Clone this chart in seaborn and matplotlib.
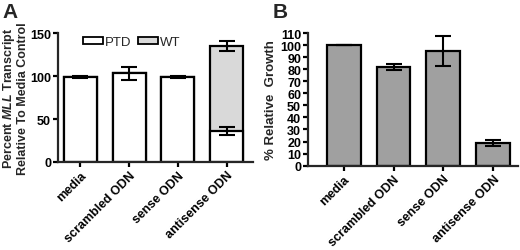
import matplotlib
matplotlib.use("Agg")
import matplotlib.pyplot as plt
import seaborn as sns
import pandas as pd
import numpy as np
from matplotlib.patches import Patch

categories = ["media", "scrambled ODN", "sense ODN", "antisense ODN"]
# Panel A
ptd_values = [99, 103, 99, 36]
ptd_err = [1, 8, 1, 5]
wt_values = [0, 0, 0, 99]
total_err = [0, 0, 0, 5.5]
# Panel B
growth_values = [100, 82, 95, 19]
growth_err = [0, 2.6, 12.5, 2.6]

sns.set_theme(style="ticks")
plt.rcParams['font.family'] = ['Liberation Sans', 'DejaVu Sans']
plt.rcParams['mathtext.fontset'] = 'custom'
plt.rcParams['mathtext.it'] = 'Liberation Sans:italic:bold'
plt.rcParams['mathtext.rm'] = 'Liberation Sans:bold'
plt.rcParams['axes.linewidth'] = 1.6
plt.rcParams['xtick.major.width'] = 1.6
plt.rcParams['ytick.major.width'] = 1.6
plt.rcParams['xtick.major.size'] = 3.5
plt.rcParams['ytick.major.size'] = 3.5

fig = plt.figure(figsize=(5.2, 2.51), dpi=100)
axA = fig.add_axes([0.1115, 0.3506, 0.375, 0.5139])
axB = fig.add_axes([0.5923, 0.336, 0.4037, 0.5285])

totals = [p + w for p, w in zip(ptd_values, wt_values)]
dfA = pd.DataFrame({"cat": categories, "total": totals, "ptd": ptd_values})
dfB = pd.DataFrame({"cat": categories, "growth": growth_values})

# Panel A: stacked bars
sns.barplot(data=dfA, x="cat", y="total", color="#d9d9d9", saturation=1,
            edgecolor="black", linewidth=1.6, width=0.68, errorbar=None, ax=axA)
sns.barplot(data=dfA, x="cat", y="ptd", color="white", saturation=1,
            edgecolor="black", linewidth=1.6, width=0.68, errorbar=None, ax=axA)
xs = np.arange(len(categories))
axA.errorbar(xs, ptd_values, yerr=[ptd_err, ptd_err], fmt="none", ecolor="black",
             elinewidth=1.5, capsize=5.5, capthick=1.5, zorder=5)
tot_mask = [w > 0 for w in wt_values]
axA.errorbar(xs[tot_mask], np.array(totals)[tot_mask],
             yerr=np.array(total_err)[tot_mask], fmt="none", ecolor="black",
             elinewidth=1.5, capsize=5.5, capthick=1.5, zorder=5)
axA.set_xlim(-0.46, 3.54)
axA.set_ylim(0, 150)
axA.set_yticks([0, 50, 100, 150])
axA.set_xlabel("")
axA.set_ylabel("Percent $\\mathit{MLL}$ Transcript\nRelative To Media Control",
               fontsize=9, fontweight="bold", labelpad=1, linespacing=1.0)
handles = [Patch(facecolor="white", edgecolor="black", linewidth=1.3, label="PTD"),
           Patch(facecolor="#d9d9d9", edgecolor="black", linewidth=1.3, label="WT")]
axA.legend(handles=handles, loc="center left", bbox_to_anchor=(0.09, 0.93), ncol=2,
           frameon=False, fontsize=9.5, handlelength=1.5, handleheight=0.5,
           handletextpad=0.15, columnspacing=0.5, borderpad=0.1)

# Panel B
sns.barplot(data=dfB, x="cat", y="growth", color="#a0a0a0", saturation=1,
            edgecolor="black", linewidth=1.6, width=0.68, errorbar=None, ax=axB)
axB.errorbar(xs, growth_values, yerr=growth_err, fmt="none", ecolor="black",
             elinewidth=1.5, capsize=5.5, capthick=1.5, zorder=5)
axB.set_xlim(-0.715, 3.495)
axB.set_ylim(0, 110)
axB.set_yticks(np.arange(0, 111, 10))
axB.set_xlabel("")
axB.set_ylabel("% Relative  Growth", fontsize=9.5, fontweight="bold", labelpad=2)

for ax in (axA, axB):
    sns.despine(ax=ax)
    ax.tick_params(axis="both", direction="out", pad=1.5, colors="black")
    for lab in ax.get_yticklabels():
        lab.set_fontsize(9)
        lab.set_fontweight("bold")
    ax.set_xticks(xs)
    ax.set_xticklabels(categories, rotation=45, ha="right", rotation_mode="anchor",
                       fontsize=9, fontweight="bold")

fig.text(0.005, 0.99, "A", fontsize=15, fontweight="bold", va="top", ha="left")
fig.text(0.525, 0.99, "B", fontsize=15, fontweight="bold", va="top", ha="left")

fig.savefig("out.png", dpi=100)
